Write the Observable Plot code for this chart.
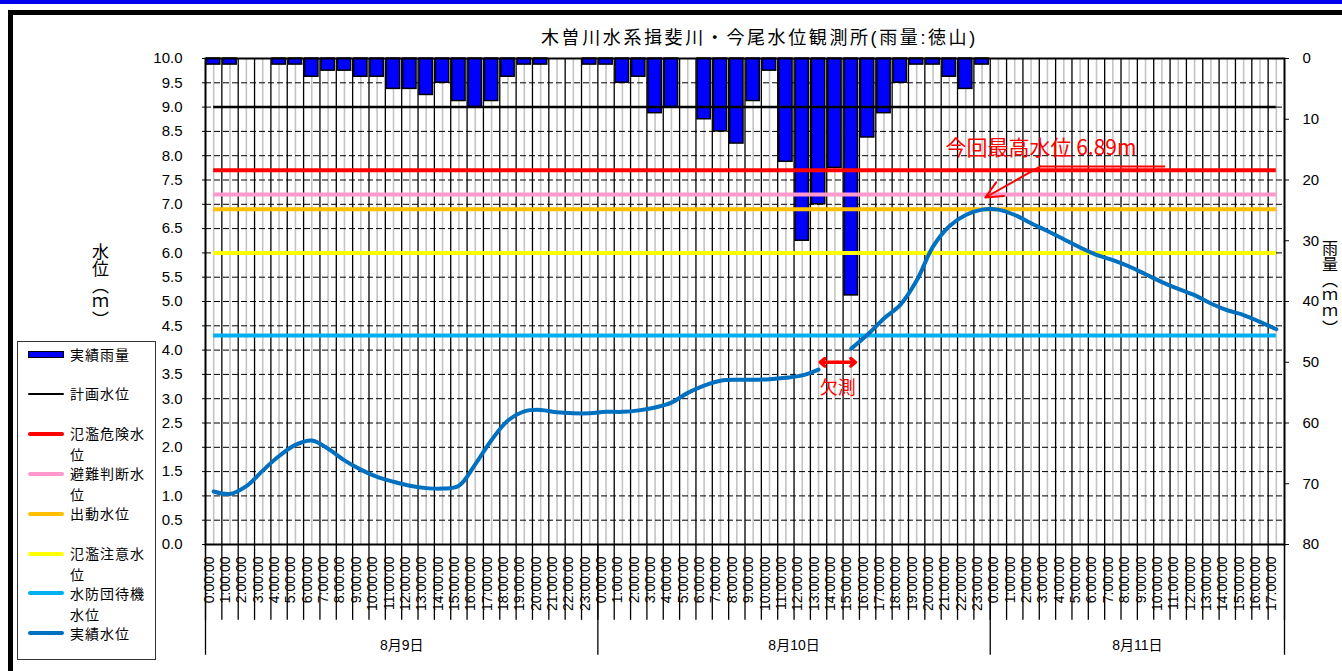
<!DOCTYPE html>
<html><head><meta charset="utf-8">
<script src="https://cdn.jsdelivr.net/npm/d3@7"></script>
<script src="https://cdn.jsdelivr.net/npm/@observablehq/plot@0.6"></script>
<style>
body{margin:0;width:1342px;height:671px;overflow:hidden;background:#fff;position:relative;font-family:"Liberation Sans","Noto Sans CJK JP",sans-serif;}
#topbar{position:absolute;left:0;top:0;width:1342px;height:4px;background:#0000ee;}
#outer{position:absolute;left:8px;top:10px;width:1420px;height:720px;border:5px solid #000;box-sizing:border-box;}
#chart{position:absolute;left:0;top:0;}
#title{position:absolute;top:23px;left:541px;font-size:18px;letter-spacing:2.6px;white-space:nowrap;color:#000;}
.vlab{position:absolute;writing-mode:vertical-rl;font-size:17px;line-height:17px;color:#000;font-family:"Noto Sans CJK JP",sans-serif;}
#legend{position:absolute;left:17px;top:341px;width:139px;height:319px;border:1px solid #333;box-sizing:border-box;background:#fff;}
.sw{position:absolute;left:10px;width:36px;}
.lt{position:absolute;left:52px;font-size:14px;line-height:21px;letter-spacing:1px;color:#000;white-space:nowrap;font-family:"Noto Sans CJK JP",sans-serif;}
g[aria-label="day-label"] text{letter-spacing:3px;}
g[aria-label="peak-label"] text{letter-spacing:2px;}
</style>
</head><body>
<div id="topbar"></div>
<div id="outer"></div>
<div id="chart"></div>
<div id="title">木曽川水系揖斐川・今尾水位観測所(雨量:徳山)</div>
<div class="vlab" style="left:92px;top:243px;">水位（ｍ）</div>
<div class="vlab" style="left:1322px;top:240px;font-size:16px;line-height:16px;">雨量（ｍｍ）</div>
<div id="legend"></div>
<script>
// ---- data ----
const dates = ["8月9日", "8月10日", "8月11日"];
const dayHourCounts = [24, 24, 18];
const hourLabels = ["0:00:00","1:00:00","2:00:00","3:00:00","4:00:00","5:00:00","6:00:00","7:00:00","8:00:00","9:00:00","10:00:00","11:00:00","12:00:00","13:00:00","14:00:00","15:00:00","16:00:00","17:00:00","18:00:00","19:00:00","20:00:00","21:00:00","22:00:00","23:00:00"];
// hourly rainfall (mm), 8/9 0:00 -> 8/11 17:00
const rainfall = [
  1,1,0,0,1,1,3,2,2,3,3,5,5,6,4,7,8,7,3,1,1,0,0,1,
  1,4,3,9,8,0,10,12,14,7,2,17,30,24,18,39,13,9,4,1,1,3,5,1,
  0,0,0,0,0,0,0,0,0,0,0,0,0,0,0,0,0,0
];
// hourly water level (m); null = missing (欠測)
const waterLevel = [
  1.09,1.04,1.20,1.52,1.82,2.05,2.14,1.97,1.73,1.54,1.39,1.29,1.21,1.16,1.15,1.21,1.65,2.15,2.55,2.74,2.77,2.72,2.70,2.70,
  2.73,2.73,2.76,2.82,2.92,3.12,3.27,3.37,3.39,3.39,3.40,3.43,3.48,3.60,null,4.03,4.32,4.65,4.93,5.43,6.13,6.55,6.78,6.89,
  6.89,6.78,6.61,6.45,6.28,6.11,5.96,5.85,5.72,5.56,5.40,5.26,5.13,4.96,4.82,4.72,4.58,4.43
];
const levelNames = ["計画水位", "氾濫危険水位", "避難判断水位", "出動水位", "氾濫注意水位", "水防団待機水位"];
const levelValues = [9.0, 7.7, 7.2, 6.9, 6.0, 4.3];
const levelColors = ["#000000", "#ff0000", "#ff99cc", "#ffc000", "#ffff00", "#00b0f0"];
const leftTicks = [0,0.5,1,1.5,2,2.5,3,3.5,4,4.5,5,5.5,6,6.5,7,7.5,8,8.5,9,9.5,10];
const rainTicks = [0,10,20,30,40,50,60,70,80];
const rainMax = 80;
const peakLabel = "今回最高水位 6.89m";
const missingLabel = "欠測";

// ---- build table ----
const rows = [];
const days = [];
let k = 0;
dates.forEach((date, d) => {
  const start = k;
  for (let h = 0; h < dayHourCounts[d]; h++) {
    rows.push({i: k, date, hour: hourLabels[h], rain: rainfall[k], level: waterLevel[k]});
    k++;
  }
  days.push({date, start, end: k});
});
const N = rows.length;
const levelTop = 10;
const rainToY = r => levelTop - r / rainMax * levelTop;
const levels = levelNames.map((name, j) => ({name, value: levelValues[j], color: levelColors[j]}));
const firstC = rows[0].i + 0.5, lastC = rows[N - 1].i + 0.5;
const boundaries = rows.map(d => d.i).concat([N]);
const dayBounds = days.map(d => d.start).concat([N]);

// annotations (anchored in data units)
const peakIdx = waterLevel.indexOf(d3.max(waterLevel));
const peakNote = {tipX: peakIdx + 0.7, tipY: 7.14, tailX: 51.07, tailY: 7.78, lineEnd: 58.7, textX: 45.26, textY: 8.15};
const missIdx = waterLevel.indexOf(null);
const missNote = {x1: missIdx - 0.4, x2: missIdx + 1.75, y: 3.75, textY: 3.21};

const chart = Plot.plot({
  width: 1342, height: 671,
  marginTop: 58, marginBottom: 127, marginLeft: 205, marginRight: 58,
  x: {domain: [0, N], axis: null},
  y: {domain: [0, levelTop], axis: null},
  style: {fontFamily: '"Liberation Sans","Noto Sans CJK JP",sans-serif', fontSize: "15px", background: "transparent", overflow: "visible"},
  marks: [
    Plot.ruleX(rows, {x: d => d.i + 0.5, stroke: "#c4c4c4", strokeWidth: 1.6}),
    Plot.ruleY(leftTicks.filter(v => v > 0 && v < levelTop), {y: d => d, stroke: "#000", strokeWidth: 1, strokeDasharray: "6,3"}),
    Plot.ruleX(boundaries.slice(1, -1), {x: d => d, stroke: "#000", strokeWidth: 1.3}),
    Plot.rectY(rows.filter(d => d.rain > 0), {x1: d => d.i, x2: d => d.i + 1, y1: levelTop, y2: d => rainToY(d.rain), fill: "#0000ff", stroke: "#000", strokeWidth: 1.5, insetLeft: 1.5, insetRight: 1.5}),
    Plot.ruleY(levels.filter(d => d.value < 9), {y: "value", x1: firstC, x2: lastC, stroke: d => d.color, strokeWidth: 4}),
    Plot.ruleY(levels.filter(d => d.value >= 9), {y: "value", x1: firstC, x2: lastC, stroke: d => d.color, strokeWidth: 2.5}),
    Plot.line(rows, {x: d => d.i + 0.5, y: "level", stroke: "#0070c0", strokeWidth: 4, curve: "catmull-rom"}),
    Plot.frame({stroke: "#000", strokeWidth: 2}),
    // left axis
    Plot.axisY(leftTicks, {anchor: "left", tickFormat: d3.format(".1f"), tickSize: 3, tickPadding: 20, fontSize: 15}),
    // right (rainfall) axis
    Plot.axisY(rainTicks.map(rainToY), {anchor: "right", tickFormat: v => Math.round((levelTop - v) / levelTop * rainMax), tickSize: 4, tickPadding: 14, fontSize: 15}),
    // hour labels
    Plot.text(rows, {x: d => d.i + 0.5, frameAnchor: "bottom", text: "hour", rotate: -90, textAnchor: "end", dy: 12, fontSize: 14}),
    Plot.ruleX(boundaries, {x: d => d, y1: 0, y2: -1.56, stroke: "#000", strokeWidth: 1.3}),
    Plot.ruleX(dayBounds, {x: d => d, y1: 0, y2: -2.28, stroke: "#000", strokeWidth: 1.3}),
    Plot.text(days, {x: d => (d.start + d.end) / 2, y: -2.08, text: "date", fontSize: 14, ariaLabel: "day-label"}),
    // peak annotation
    Plot.text([peakNote], {x: "textX", y: "textY", text: () => peakLabel, fill: "#ff0000", fontSize: 21, textAnchor: "start", fontFamily: '"Noto Sans CJK JP",sans-serif', ariaLabel: "peak-label"}),
    Plot.link([peakNote], {x1: "tailX", y1: "tailY", x2: "lineEnd", y2: "tailY", stroke: "#ff0000", strokeWidth: 2}),
    Plot.arrow([peakNote], {x1: "tailX", y1: "tailY", x2: "tipX", y2: "tipY", stroke: "#ff0000", strokeWidth: 2, headLength: 14, headAngle: 50}),
    // missing-data annotation
    Plot.arrow([{a: (missNote.x1 + missNote.x2) / 2, b: missNote.x1}, {a: (missNote.x1 + missNote.x2) / 2, b: missNote.x2}],
      {x1: "a", x2: "b", y1: missNote.y, y2: missNote.y, stroke: "#ff0000", strokeWidth: 3.5, headLength: 10, headAngle: 80}),
    Plot.text([missNote], {x: d => (d.x1 + d.x2) / 2, y: "textY", text: () => missingLabel, fill: "#ff0000", fontSize: 18, fontFamily: '"Noto Sans CJK JP",sans-serif'})
  ]
});
document.getElementById("chart").appendChild(chart);

// ---- legend ----
const legendItems = [{label: ["実績雨量"], kind: "rect", color: "#0000ff"}]
  .concat([
    {label: ["計画水位"], color: levelColors[0], w: 2.5},
    {label: ["氾濫危険水", "位"], color: levelColors[1], w: 4},
    {label: ["避難判断水", "位"], color: levelColors[2], w: 4},
    {label: ["出動水位"], color: levelColors[3], w: 4},
    {label: ["氾濫注意水", "位"], color: levelColors[4], w: 4},
    {label: ["水防団待機", "水位"], color: levelColors[5], w: 4},
    {label: ["実績水位"], color: "#0070c0", w: 4}
  ]);
const leg = document.getElementById("legend");
legendItems.forEach((it, j) => {
  const cy = 12 + j * 39.9;
  const sw = document.createElement("div");
  sw.className = "sw";
  if (it.kind === "rect") {
    sw.style.cssText = `top:${cy - 3.5}px;height:5px;background:${it.color};border:1px solid #000;width:34px;`;
  } else {
    sw.style.cssText = `top:${cy - it.w / 2}px;height:${it.w}px;background:${it.color};border-radius:2px;`;
  }
  leg.appendChild(sw);
  const t = document.createElement("div");
  t.className = "lt";
  t.style.top = (cy - 10.5) + "px";
  t.innerHTML = it.label.join("<br>");
  leg.appendChild(t);
});
</script>
</body></html>
